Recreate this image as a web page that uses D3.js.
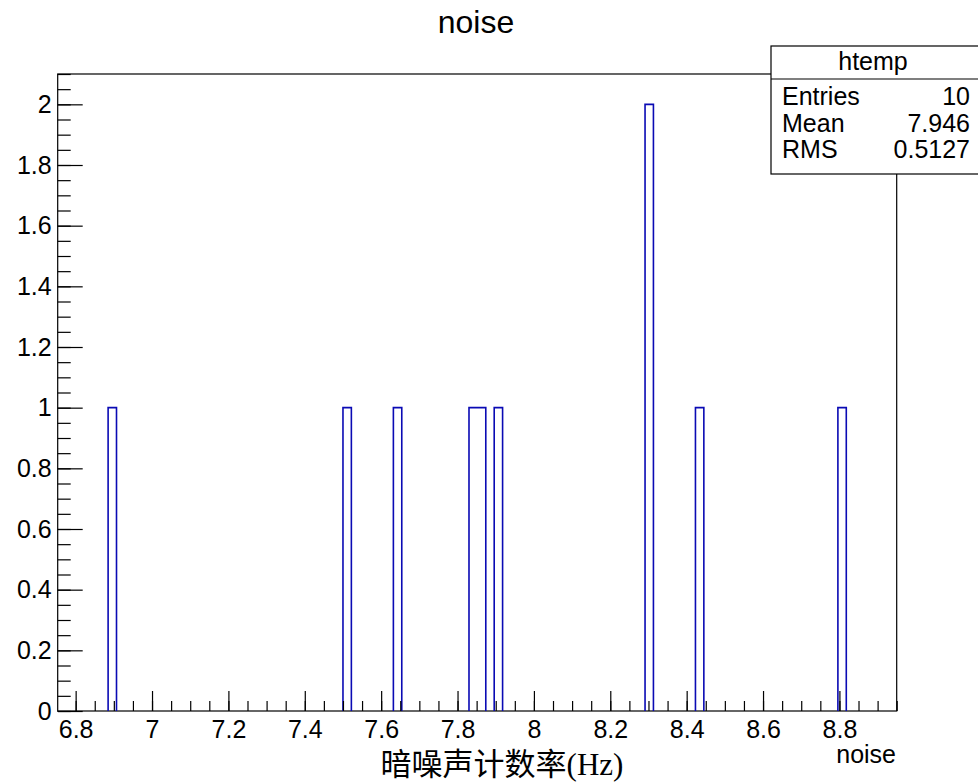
<!DOCTYPE html>
<html>
<head>
<meta charset="utf-8">
<script src="https://cdn.jsdelivr.net/npm/d3@7"></script>
<style>
  body { margin: 0; background: #fff; }
  text { font-family: "Liberation Sans", Arial, sans-serif; fill: #000; }
</style>
</head>
<body>
<div id="chart"></div>
<script>
// histogram "htemp" of noise, 100 bins, only the filled ones kept here
var binCenters = [6.896, 7.511, 7.643, 7.841, 7.863, 7.907, 8.302, 8.434, 8.807];
var binCounts = [1, 1, 1, 1, 1, 1, 2, 1, 1];
var binWidth = 0.02197;
var xRange = [6.753, 8.95];
var yRange = [0, 2.1];
var xTicks = [6.8, 7, 7.2, 7.4, 7.6, 7.8, 8, 8.2, 8.4, 8.6, 8.8];
var yTicks = [0, 0.2, 0.4, 0.6, 0.8, 1, 1.2, 1.4, 1.6, 1.8, 2];
var statLabels = ["Entries", "Mean", "RMS"];
var statValues = ["10", "7.946", "0.5127"];

function drawHist(elementId) {
  var frame = { left: 57.7, right: 896.7, top: 74, bottom: 711 };

  var svg = d3
    .select(elementId)
    .append("svg")
    .attr("width", 978)
    .attr("height", 782);

  var x = d3.scaleLinear().domain(xRange).range([frame.left, frame.right]);
  var y = d3.scaleLinear().domain(yRange).range([frame.bottom, frame.top]);

  // frame
  svg
    .append("rect")
    .attr("x", frame.left)
    .attr("y", frame.top)
    .attr("width", frame.right - frame.left)
    .attr("height", frame.bottom - frame.top)
    .attr("fill", "none")
    .attr("stroke", "#000")
    .attr("stroke-width", 1.2);

  // histogram outline, adjacent bins share one outline
  var groups = [];
  var cur = null;
  for (let i = 0; i < binCenters.length; i++) {
    var lo = binCenters[i] - binWidth / 2;
    var hi = binCenters[i] + binWidth / 2;
    if (cur && Math.abs(cur.end - lo) < binWidth * 0.2) {
      cur.pts.push([lo, binCounts[i]], [hi, binCounts[i]]);
    } else {
      if (cur) cur.pts.push([cur.end, 0]);
      cur = { pts: [[lo, 0], [lo, binCounts[i]], [hi, binCounts[i]]] };
      groups.push(cur);
    }
    cur.end = hi;
  }
  if (cur) cur.pts.push([cur.end, 0]);

  var line = d3
    .line()
    .x(function (d) { return x(d[0]); })
    .y(function (d) { return y(d[1]); });

  svg
    .selectAll("path.bin")
    .data(groups)
    .enter()
    .append("path")
    .attr("class", "bin")
    .attr("d", function (g) { return line(g.pts); })
    .attr("fill", "none")
    .attr("stroke", "#0a0ab4")
    .attr("stroke-width", 1.6);

  // x axis, ticks pointing up into the frame
  var xMinor = d3.range(6.75, 8.951, 0.05).filter(function (v) {
    return v >= xRange[0] && v <= xRange[1];
  });
  var xMinorAxis = svg
    .append("g")
    .attr("transform", "translate(0," + frame.bottom + ")")
    .call(d3.axisBottom(x).tickValues(xMinor).tickSize(-10).tickFormat(""));
  var xAxis = svg
    .append("g")
    .attr("transform", "translate(0," + frame.bottom + ")")
    .call(d3.axisBottom(x).tickValues(xTicks).tickSize(-20).tickPadding(9).tickFormat(d3.format("")));

  // y axis, ticks pointing right into the frame
  var yMinor = d3.range(0, 2.101, 0.05);
  var yMinorAxis = svg
    .append("g")
    .attr("transform", "translate(" + frame.left + ",0)")
    .call(d3.axisLeft(y).tickValues(yMinor).tickSize(-13).tickFormat(""));
  var yAxis = svg
    .append("g")
    .attr("transform", "translate(" + frame.left + ",0)")
    .call(d3.axisLeft(y).tickValues(yTicks).tickSize(-25).tickPadding(6).tickFormat(d3.format("")));

  [xMinorAxis, xAxis, yMinorAxis, yAxis].forEach(function (ax) {
    ax.select(".domain").remove();
    ax.selectAll("line").attr("stroke", "#000").attr("stroke-width", 1.2);
    ax.selectAll("text")
      .style("font-family", '"Liberation Sans", Arial, sans-serif')
      .style("font-size", "25px")
      .attr("fill", "#000");
  });

  // titles
  svg
    .append("text")
    .attr("x", 476)
    .attr("y", 33)
    .attr("text-anchor", "middle")
    .style("font-size", "32px")
    .text("noise");

  svg
    .append("text")
    .attr("x", 896)
    .attr("y", 763)
    .attr("text-anchor", "end")
    .style("font-size", "25px")
    .text("noise");

  svg
    .append("text")
    .attr("x", 502)
    .attr("y", 775)
    .attr("text-anchor", "middle")
    .style("font-family", '"Liberation Serif", "Noto Sans CJK SC", serif')
    .style("font-size", "31px")
    .text("暗噪声计数率(Hz)");

  // stats box
  var box = { left: 771, right: 979, top: 46, sep: 79, bottom: 174 };
  var stats = svg.append("g");
  stats
    .append("rect")
    .attr("x", box.left)
    .attr("y", box.top)
    .attr("width", box.right - box.left)
    .attr("height", box.bottom - box.top)
    .attr("fill", "#fff")
    .attr("stroke", "#000")
    .attr("stroke-width", 1.2);
  stats
    .append("line")
    .attr("x1", box.left)
    .attr("x2", box.right)
    .attr("y1", box.sep)
    .attr("y2", box.sep)
    .attr("stroke", "#000")
    .attr("stroke-width", 1.2);
  stats
    .append("text")
    .attr("x", 873)
    .attr("y", 70)
    .attr("text-anchor", "middle")
    .style("font-size", "25px")
    .text("htemp");

  var rowY = d3.scalePoint().domain(statLabels).range([105, 158]);
  stats
    .selectAll("text.lab")
    .data(statLabels)
    .enter()
    .append("text")
    .attr("class", "lab")
    .attr("x", 782)
    .attr("y", function (d) { return rowY(d); })
    .style("font-size", "25px")
    .text(function (d) { return d; });
  stats
    .selectAll("text.val")
    .data(statValues)
    .enter()
    .append("text")
    .attr("class", "val")
    .attr("x", 970)
    .attr("y", function (d, i) { return rowY(statLabels[i]); })
    .attr("text-anchor", "end")
    .style("font-size", "25px")
    .text(function (d) { return d; });
}

drawHist("#chart");
</script>
</body>
</html>
